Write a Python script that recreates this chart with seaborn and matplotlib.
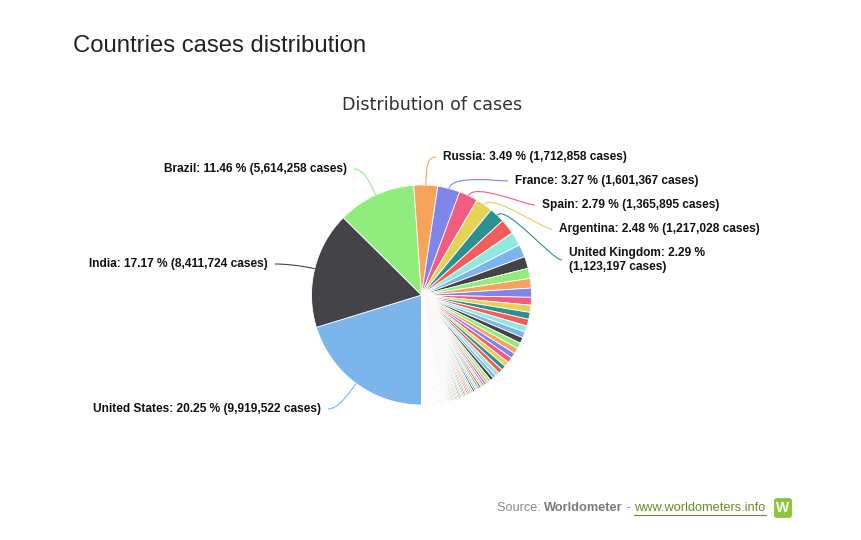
import numpy as np
import pandas as pd
import seaborn as sns
import matplotlib
matplotlib.use("Agg")
import matplotlib.pyplot as plt
from matplotlib.path import Path
from matplotlib.patches import PathPatch, FancyBboxPatch

# ---------------- data ----------------
top_countries = ["United States", "India", "Brazil", "Russia", "France",
                 "Spain", "Argentina", "United Kingdom"]
top_cases = [9919522, 8411724, 5614258, 1712858, 1601367,
             1365895, 1217028, 1123197]
top_pcts = [20.25, 17.17, 11.46, 3.49, 3.27, 2.79, 2.48, 2.29]

# remaining countries (unlabelled slices)
other_cases = [
    1100000, 990000, 915000, 860000, 730000, 690000, 660000, 560000, 515000, 500000,
    495000, 450000, 430000, 425000, 420000, 410000, 390000, 390000, 348000, 335000,
    320000, 300000, 240000, 240000, 210000, 176000, 168000, 141000, 141000, 140000,
    134000, 132000, 131000, 127000, 126000, 124000, 114000, 112000, 108000, 108000,
    105000, 101000, 101000, 96000, 96000, 92000, 91000, 86000, 83000, 83000,
    83000, 76000, 75000, 68000, 66000, 63000, 63000, 61000, 60000, 58000,
    58000, 57000, 57000, 55000, 53000, 53000, 50000, 49000, 49000, 48000,
    48000, 48000, 45000, 43000, 41000, 41000, 37000, 34000, 34000, 32000,
    27600, 21500, 20900, 20000, 20000, 20000, 19000, 17000, 16400, 16000,
    15600, 13800, 13000, 12000, 12000, 12000, 11700, 11300, 11000, 11000,
    10800, 10800, 10400, 9000, 9000, 8800, 8800, 8300, 7700, 6900,
    6500, 6400, 6300, 5900, 5900, 5900, 5800, 5600, 5400, 5300,
    5300, 5200, 5100, 5100, 4900, 4800, 4800, 4500, 4300, 4300,
    4200, 4100, 3800, 3800, 3800, 3600, 3500, 3100, 2900, 2700,
    2500, 2400, 2400, 2400, 2060, 1900, 1600, 1500, 1500, 1400,
    1200, 1180, 600, 590, 550, 500, 500, 440, 350, 330,
    290, 230, 148, 33, 30, 24, 4,
]

hc_colors = ["#7cb5ec", "#434348", "#90ed7d", "#f7a35c", "#8085e9",
             "#f15c80", "#e4d354", "#2b908f", "#f45b5b", "#91e8e1"]

title_text = "Countries cases distribution"
subtitle_text = "Distribution of cases"

# ---------------- layout ----------------
sns.set_theme(style="white")
plt.rcParams["font.family"] = ["Liberation Sans", "DejaVu Sans"]

W, H = 861, 540
fig = plt.figure(figsize=(W / 100, H / 100), dpi=100)
fig.patch.set_facecolor("white")

cx, cy, r = 421.5, 295, 110
ax = fig.add_axes([(cx - r) / W, (H - cy - r) / H, 2 * r / W, 2 * r / H])

values = top_cases + other_cases
palette = sns.color_palette(hc_colors, n_colors=len(values))
wedges, _ = ax.pie(values, colors=palette, startangle=-90, counterclock=False,
                   radius=1, wedgeprops=dict(edgecolor="white", linewidth=0.6))
for w in wedges:
    w.set_clip_on(False)
ax.set_xlim(-1, 1)
ax.set_ylim(-1, 1)
ax.set_aspect("equal")
ax.axis("off")

ov = fig.add_axes([0, 0, 1, 1], facecolor="none")
ov.set_xlim(0, W)
ov.set_ylim(H, 0)
ov.axis("off")

fig.canvas.draw()
renderer = fig.canvas.get_renderer()


def to_px(x, y):
    d = ax.transData.transform((x, y))
    return d[0], H - d[1]


# label anchors (x, y, ha) in pixel coords
label_pos = [(321, 409, "right"), (268, 264, "right"), (347, 169, "right"),
             (443, 157, "left"), (515, 181, "left"), (542, 205, "left"),
             (559, 229, "left"), (569, 260, "left")]

for i, (name, cases, pct) in enumerate(zip(top_countries, top_cases, top_pcts)):
    w = wedges[i]
    mid = np.deg2rad((w.theta1 + w.theta2) / 2)
    edge = to_px(np.cos(mid), np.sin(mid))
    knee = to_px(1.13 * np.cos(mid), 1.13 * np.sin(mid))
    lx, ly, ha = label_pos[i]
    if ha == "right":
        end = (lx + 7, ly)
        p2 = (end[0] + 10, ly)
    else:
        end = (lx - 7, ly)
        p2 = (end[0] - 10, ly)
    path = Path([edge, knee, p2, end],
                [Path.MOVETO, Path.CURVE4, Path.CURVE4, Path.CURVE4])
    ov.add_patch(PathPatch(path, fill=False, edgecolor=palette[i], lw=0.8))
    if name == "United Kingdom":
        txt = f"{name}: {pct:.2f} %\n({cases:,} cases)"
    else:
        txt = f"{name}: {pct:.2f} % ({cases:,} cases)"
    ov.text(lx, ly, txt, ha=ha, va="center", fontsize=8.6, fontweight="bold",
            color="#111111", linespacing=1.25, multialignment="left")

ov.text(73, 46, title_text, fontsize=17.2, va="center", ha="left", color="#222222")
ov.text(432.5, 105, subtitle_text, fontsize=12.6, va="center", ha="center",
        color="#333333", family=["DejaVu Sans"])

# source line
pieces = [("Source: ", "#8a8a8a", "normal"), ("Worldometer", "#7a7a7a", "bold"),
          (" - ", "#8a8a8a", "normal"), ("www.worldometers.info", "#6b8a2a", "normal")]
x = 497
for s, col, wt in pieces:
    t = ov.text(x, 508, s, fontsize=9.2, color=col, fontweight=wt, va="center", ha="left")
    bb = t.get_window_extent(renderer)
    if s.startswith("www"):
        ov.plot([x, x + bb.width], [515, 515], color=col, lw=0.8)
    x += bb.width

ov.add_patch(FancyBboxPatch((774, 498), 18, 20, boxstyle="round,pad=0,rounding_size=3",
                            facecolor="#8dc63f", edgecolor="none"))
ov.text(783, 508.5, "W", color="white", fontsize=10, fontweight="bold",
        ha="center", va="center")

fig.savefig("out.png", dpi=100, facecolor="white")
